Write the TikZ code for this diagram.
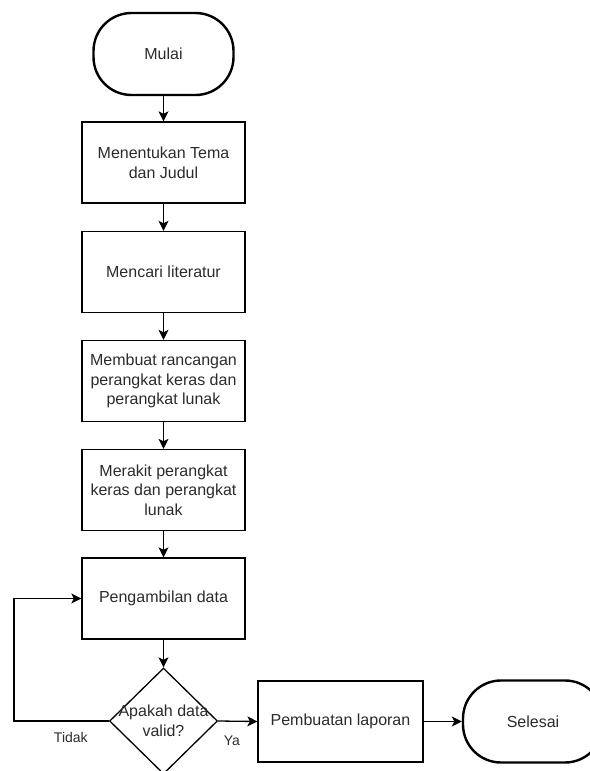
\documentclass[tikz,border=0pt]{standalone}
\usepackage{fontspec}
\setmainfont{Liberation Sans}
\usetikzlibrary{shapes.geometric,arrows.meta}
\definecolor{txt}{HTML}{2B2B2B}
\begin{document}
\begin{tikzpicture}[x=1pt,y=-1pt,
  every node/.style={font=\fontsize{16}{19.6}\selectfont, text=txt, align=center, inner sep=0pt},
  procbox/.style={draw=black, line width=1.3pt, rectangle, minimum width=163pt, minimum height=81pt},
  termbox/.style={draw=black, line width=2.4pt, rectangle, rounded corners=38pt, minimum width=140pt, minimum height=82pt},
  decbox/.style={draw=black, line width=1.3pt, diamond, minimum width=108pt, minimum height=106pt},
  conn/.style={draw=black, line width=1.3pt, -{Stealth[length=10pt,width=10pt,inset=2.5pt]}},
  lbl/.style={font=\fontsize{14}{16}\selectfont}
]
\useasboundingbox (0,0) rectangle (589,771);
\node[termbox] (m) at (163.5,54) {Mulai};
\node[procbox] (b1) at (163.5,162.5) {Menentukan Tema\\dan Judul};
\node[procbox] (b2) at (163.5,272) {Mencari literatur};
\node[procbox] (b3) at (163.5,381) {Membuat rancangan\\perangkat keras dan\\perangkat lunak};
\node[procbox] (b4) at (163.5,490) {Merakit perangkat\\keras dan perangkat\\lunak};
\node[procbox] (b5) at (163.5,598.5) {Pengambilan data};
\node[decbox] (d) at (163.5,721) {};
\node (dt) at (163.5,721) {Apakah data\\valid?};
\node[procbox, minimum width=165pt] (p) at (340.5,721.5) {Pembuatan laporan};
\node[termbox] (s) at (533,721.5) {Selesai};

\draw[conn] (m.south) -- (b1.north);
\draw[conn] (b1.south) -- (b2.north);
\draw[conn] (b2.south) -- (b3.north);
\draw[conn] (b3.south) -- (b4.north);
\draw[conn] (b4.south) -- (b5.north);
\draw[conn] (b5.south) -- (d.north);
\draw[conn] (d.east) -- node[lbl, pos=0.35, yshift=-20pt] {Ya} (p.west);
\draw[conn] (p.east) -- (s.west);
\draw[conn] (d.west) -- node[lbl, pos=0.4, yshift=-16pt] {Tidak} ++(-95,0) |- (b5.west);
\end{tikzpicture}
\end{document}
